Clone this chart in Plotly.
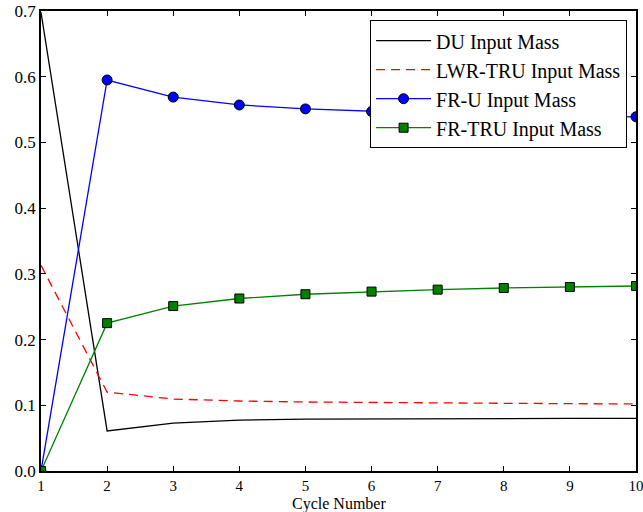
import plotly.graph_objects as go

cycles = [1, 2, 3, 4, 5, 6, 7, 8, 9, 10]
du_mass = [0.698, 0.061, 0.073, 0.0775, 0.079, 0.0795, 0.0798, 0.080, 0.080, 0.080]
lwr_tru_mass = [0.313, 0.120, 0.1095, 0.1065, 0.105, 0.104, 0.1035, 0.103, 0.1025, 0.102]
fr_u_mass = [0.0, 0.595, 0.569, 0.557, 0.551, 0.547, 0.544, 0.542, 0.540, 0.539]
fr_tru_mass = [0.0, 0.225, 0.251, 0.2625, 0.269, 0.273, 0.276, 0.2785, 0.280, 0.2815]

FONT = "serif"

fig = go.Figure()
fig.add_trace(go.Scatter(x=cycles, y=du_mass, mode="lines", name="DU Input Mass",
                         line=dict(color="black", width=1.3)))
fig.add_trace(go.Scatter(x=cycles, y=lwr_tru_mass, mode="lines", name="LWR-TRU Input Mass",
                         line=dict(color="red", width=1.3, dash="9px,6px")))
fig.add_trace(go.Scatter(x=cycles, y=fr_u_mass, mode="lines+markers", name="FR-U Input Mass",
                         line=dict(color="blue", width=1.3),
                         marker=dict(symbol="circle", size=10, color="blue",
                                     line=dict(color="black", width=1))))
fig.add_trace(go.Scatter(x=cycles, y=fr_tru_mass, mode="lines+markers", name="FR-TRU Input Mass",
                         line=dict(color="green", width=1.3),
                         marker=dict(symbol="square", size=9, color="green",
                                     line=dict(color="black", width=1))))

axis_common = dict(showline=True, linecolor="black", linewidth=1.5, mirror="ticks",
                   ticks="inside", ticklen=5, tickcolor="black", tickwidth=1,
                   showgrid=False, zeroline=False, automargin=False,
                   ticklabeloverflow="allow")

fig.update_xaxes(range=[1, 10], tickvals=cycles, ticktext=[str(c) for c in cycles],
                 tickfont=dict(family=FONT, size=15, color="black"), **axis_common)
fig.update_yaxes(range=[0, 0.7], dtick=0.1, tickformat=".1f",
                 tickfont=dict(family=FONT, size=17, color="black"), **axis_common)

# x-axis title anchored to the bottom of the page, under the tick labels
fig.add_annotation(text="Cycle Number", xref="paper", yref="paper", x=0.5, y=0,
                   yshift=-43, xanchor="center", yanchor="bottom", showarrow=False,
                   borderpad=0, font=dict(family=FONT, size=16, color="black"))

fig.update_layout(
    width=643, height=512,
    margin=dict(l=41, r=7, t=11, b=41),
    plot_bgcolor="white", paper_bgcolor="white",
    font=dict(family=FONT, color="black"),
    legend=dict(x=0.985, y=0.98, xanchor="right", yanchor="top",
                bgcolor="white", bordercolor="black", borderwidth=1,
                font=dict(family=FONT, size=20, color="black"),
                itemwidth=55, tracegroupgap=0),
)

fig.write_html("out.html")
